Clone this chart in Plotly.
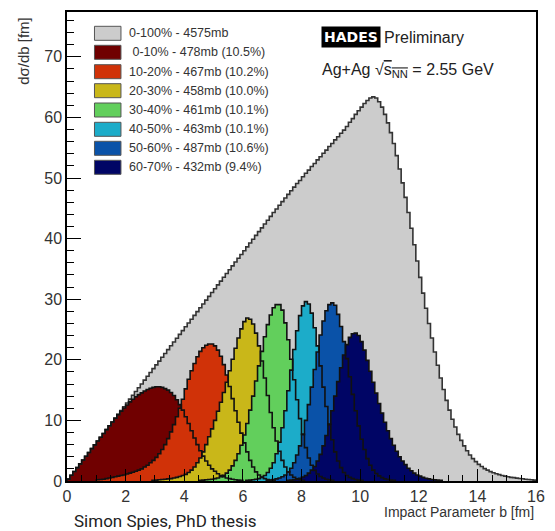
import plotly.graph_objects as go

# Histogram binning (fm)
BIN_WIDTH = 0.1

# Total distribution, 0-16 fm
total_start = 0.0
total_vals = [
    0.31, 0.94, 1.57, 2.20, 2.83, 3.46, 4.08, 4.71, 5.34, 5.97,
    6.60, 7.23, 7.85, 8.48, 9.11, 9.74, 10.37, 11.00, 11.62, 12.25,
    12.88, 13.51, 14.14, 14.77, 15.39, 16.02, 16.65, 17.28, 17.91, 18.54,
    19.16, 19.79, 20.42, 21.05, 21.68, 22.31, 22.93, 23.56, 24.19, 24.82,
    25.45, 26.08, 26.70, 27.33, 27.96, 28.59, 29.22, 29.85, 30.47, 31.10,
    31.73, 32.36, 32.99, 33.62, 34.24, 34.87, 35.50, 36.13, 36.76, 37.38,
    38.01, 38.64, 39.27, 39.90, 40.53, 41.15, 41.78, 42.41, 43.04, 43.67,
    44.30, 44.90, 45.50, 46.10, 46.70, 47.30, 47.90, 48.50, 49.10, 49.60,
    50.20, 50.80, 51.30, 51.90, 52.40, 53.00, 53.50, 54.10, 54.60, 55.20,
    55.70, 56.30, 56.80, 57.40, 57.90, 58.50, 59.20, 59.80, 60.50, 61.10,
    61.70, 62.30, 62.80, 63.20, 63.40, 63.20, 62.60, 61.70, 60.50, 59.10,
    57.50, 55.70, 53.70, 51.50, 49.20, 46.80, 44.30, 41.70, 39.00, 36.30,
    33.60, 31.00, 28.50, 26.00, 23.60, 21.30, 19.10, 17.00, 15.10, 13.30,
    11.70, 10.20, 8.90, 7.70, 6.70, 5.80, 5.00, 4.30, 3.70, 3.20,
    2.75, 2.40, 2.05, 1.80, 1.55, 1.35, 1.20, 1.05, 0.90, 0.80,
    0.70, 0.60, 0.55, 0.48, 0.42, 0.36, 0.30, 0.25, 0.20, 0.15,
]

# Centrality classes: first bin edge and bin contents
c0_10_start = 0.0
c0_10_vals = [
    0.31, 0.94, 1.57, 2.20, 2.83, 3.46, 4.08, 4.71, 5.34, 5.97,
    6.60, 7.23, 7.85, 8.48, 9.11, 9.74, 10.35, 10.95, 11.50, 12.05,
    12.55, 13.05, 13.50, 13.90, 14.25, 14.55, 14.85, 15.10, 15.30, 15.45,
    15.55, 15.55, 15.45, 15.25, 15.00, 14.60, 14.10, 13.40, 12.60, 11.70,
    10.60, 9.50, 8.30, 7.10, 6.00, 5.00, 4.10, 3.30, 2.60, 2.00,
    1.60, 1.20, 0.90, 0.70, 0.50, 0.40, 0.30, 0.20, 0.15, 0.10,
]

c10_20_start = 1.0
c10_20_vals = [
    0.20, 0.25, 0.30, 0.40, 0.50, 0.60, 0.70, 0.80, 0.90, 1.00,
    1.15, 1.30, 1.45, 1.60, 1.80, 2.00, 2.30, 2.60, 3.00, 3.40,
    3.90, 4.50, 5.20, 6.00, 7.00, 8.10, 9.30, 10.60, 12.00, 13.50,
    15.20, 16.80, 18.20, 19.40, 20.50, 21.40, 22.00, 22.40, 22.60, 22.60,
    22.30, 21.60, 20.60, 19.20, 17.50, 15.60, 13.60, 11.60, 9.70, 7.90,
    6.30, 4.80, 3.40, 2.30, 1.50, 1.00, 0.65, 0.40, 0.25, 0.15,
    0.10,
]

c20_30_start = 2.9
c20_30_vals = [
    0.10, 0.15, 0.20, 0.25, 0.30, 0.35, 0.40, 0.50, 0.60, 0.75,
    0.90, 1.10, 1.40, 1.80, 2.30, 3.00, 3.80, 4.80, 6.00, 7.30,
    8.60, 10.00, 11.50, 13.00, 14.60, 16.30, 18.20, 20.10, 21.90, 23.60,
    25.10, 26.30, 26.90, 26.70, 25.90, 24.40, 22.30, 19.80, 17.00, 14.10,
    11.30, 8.80, 6.60, 4.90, 3.40, 2.30, 1.50, 1.00, 0.60, 0.35,
    0.20, 0.10,
]

c30_40_start = 4.5
c30_40_vals = [
    0.10, 0.15, 0.20, 0.25, 0.30, 0.40, 0.50, 0.70, 0.95, 1.30,
    1.80, 2.50, 3.40, 4.50, 5.90, 7.60, 9.50, 11.70, 14.00, 16.50,
    19.00, 21.40, 23.80, 25.80, 27.40, 28.60, 29.10, 29.10, 28.20, 26.10,
    23.30, 20.10, 16.70, 13.40, 10.30, 7.70, 5.50, 3.80, 2.60, 1.75,
    1.15, 0.75, 0.50, 0.30, 0.20, 0.10,
]

c40_50_start = 6.1
c40_50_vals = [
    0.10, 0.15, 0.20, 0.30, 0.40, 0.60, 0.90, 1.40, 2.10, 3.00,
    4.50, 6.40, 8.80, 11.60, 14.90, 18.30, 21.70, 24.80, 27.30, 28.90,
    29.60, 29.20, 27.70, 25.30, 22.30, 19.00, 15.50, 12.30, 9.30, 6.80,
    4.80, 3.30, 2.20, 1.40, 0.90, 0.60, 0.40, 0.25, 0.15, 0.10,
]

c50_60_start = 6.8
c50_60_vals = [
    0.10, 0.15, 0.25, 0.35, 0.50, 0.70, 1.00, 1.50, 2.10, 3.00,
    4.30, 5.80, 7.70, 10.00, 12.60, 15.50, 18.40, 21.30, 24.10, 26.40,
    28.10, 29.10, 29.40, 29.00, 27.50, 25.50, 23.00, 20.20, 17.20, 14.30,
    11.60, 9.10, 6.90, 5.20, 3.70, 2.60, 1.80, 1.25, 0.85, 0.55,
    0.35, 0.25, 0.15, 0.10,
]

c60_70_start = 7.5
c60_70_vals = [
    0.10, 0.15, 0.20, 0.30, 0.45, 0.65, 0.90, 1.30, 1.80, 2.40,
    3.30, 4.40, 5.80, 7.50, 9.40, 11.60, 14.00, 16.40, 18.70, 20.80,
    22.50, 23.70, 24.30, 24.40, 24.00, 23.00, 21.60, 19.90, 18.10, 16.30,
    14.50, 12.80, 11.20, 9.70, 8.30, 7.00, 5.90, 4.90, 4.00, 3.30,
    2.70, 2.10, 1.70, 1.30, 1.00, 0.80, 0.60, 0.45, 0.35, 0.25,
    0.20, 0.15, 0.10,
]

legend_labels = [
    "0-100% - 4575mb",
    " 0-10% - 478mb (10.5%)",
    "10-20% - 467mb (10.2%)",
    "20-30% - 458mb (10.0%)",
    "30-40% - 461mb (10.1%)",
    "40-50% - 463mb (10.1%)",
    "50-60% - 487mb (10.6%)",
    "60-70% - 432mb (9.4%)",
]

x_ticks = [0, 2, 4, 6, 8, 10, 12, 14, 16]
y_ticks = [0, 10, 20, 30, 40, 50, 60, 70]

# Styles
fill_colors = ["#cccccc", "#700000", "#d03208", "#c9b719", "#62cf5c",
               "#1cacc9", "#0a52a8", "#000565"]
outline_colors = ["#333333"] + ["#111111"] * 7

series = [
    (total_start, total_vals),
    (c0_10_start, c0_10_vals),
    (c10_20_start, c10_20_vals),
    (c20_30_start, c20_30_vals),
    (c30_40_start, c30_40_vals),
    (c40_50_start, c40_50_vals),
    (c50_60_start, c50_60_vals),
    (c60_70_start, c60_70_vals),
]


def step_path(start, vals):
    """Closed outline of a histogram, to be drawn with line_shape='hv'."""
    xs = [start]
    ys = [0.0]
    for i, v in enumerate(vals):
        xs.append(round(start + i * BIN_WIDTH, 4))
        ys.append(v)
    end = round(start + len(vals) * BIN_WIDTH, 4)
    xs += [end, end]
    ys += [vals[-1], 0.0]
    return xs, ys


fig = go.Figure()

# filled areas first, in drawing order
for (start, vals), col in zip(series, fill_colors):
    xs, ys = step_path(start, vals)
    fig.add_trace(go.Scatter(x=xs, y=ys, mode="lines", line_shape="hv",
                             line=dict(width=0, color=col), fill="toself",
                             fillcolor=col, hoverinfo="skip", showlegend=False))

# outlines on top of every fill
for (start, vals), col in zip(series, outline_colors):
    xs, ys = step_path(start, vals)
    fig.add_trace(go.Scatter(x=xs, y=ys, mode="lines", line_shape="hv",
                             line=dict(width=1.6, color=col),
                             hoverinfo="skip", showlegend=False))

W, H = 555, 531
L, R, T, B = 67, 10, 12, 50
PW, PH = W - L - R, H - T - B


def px(xp):
    return (xp - L) / PW


def py(yp):
    return (H - B - yp) / PH


TXT = "#333333"
FONT = "Liberation Sans, Arial, sans-serif"

# legend block: swatches + labels
row_y = [33.3, 52.3, 71.7, 90.7, 110.0, 129.3, 148.3, 167.3]
shapes = []
annotations = []
for yc, lab, col in zip(row_y, legend_labels, fill_colors):
    shapes.append(dict(type="rect", xref="paper", yref="paper",
                       x0=px(95), x1=px(122), y0=py(yc + 7), y1=py(yc - 7),
                       fillcolor=col, line=dict(color="#555555", width=1)))
    text = "&nbsp;" + lab[1:] if lab.startswith(" ") else lab
    annotations.append(dict(xref="paper", yref="paper", x=px(128), y=py(yc),
                            xanchor="left", yanchor="middle", showarrow=False,
                            text=text,
                            font=dict(family=FONT, size=12.5, color=TXT)))

# experiment tag
annotations.append(dict(xref="paper", yref="paper", x=px(326), y=py(37),
                        xanchor="left", yanchor="middle", showarrow=False,
                        text="<b>HADES</b>", bgcolor="black", borderpad=2,
                        font=dict(family="DejaVu Sans", size=14, color="white")))
annotations.append(dict(xref="paper", yref="paper", x=px(388), y=py(37),
                        xanchor="left", yanchor="middle", showarrow=False,
                        text="Preliminary",
                        font=dict(family=FONT, size=16, color="#222222")))
annotations.append(dict(xref="paper", yref="paper", x=px(325), y=py(70),
                        xanchor="left", yanchor="middle", showarrow=False,
                        text="Ag+Ag √<span style='text-decoration:overline'>s<sub>NN</sub></span> = 2.55 GeV",
                        font=dict(family=FONT, size=16, color="#222222")))

# axis titles
annotations.append(dict(xref="paper", yref="paper", x=px(545), y=py(512),
                        xanchor="right", yanchor="middle", showarrow=False,
                        text="Impact Parameter b [fm]",
                        font=dict(family=FONT, size=14, color=TXT)))
annotations.append(dict(xref="paper", yref="paper", x=px(22), y=py(15),
                        xanchor="center", yanchor="top", showarrow=False,
                        text="dσ/db [fm]", textangle=-90,
                        font=dict(family=FONT, size=15, color=TXT)))
annotations.append(dict(xref="paper", yref="paper", x=px(72), y=py(521),
                        xanchor="left", yanchor="middle", showarrow=False,
                        text="Simon Spies, PhD thesis",
                        font=dict(family="Roboto, sans-serif", size=17, color="#222222")))

fig.update_layout(
    width=W, height=H,
    margin=dict(l=L, r=R, t=T, b=B),
    paper_bgcolor="white", plot_bgcolor="white",
    shapes=shapes, annotations=annotations,
    showlegend=False,
)
fig.update_xaxes(range=[0, 16], tickvals=x_ticks, ticktext=[str(v) for v in x_ticks],
                 showgrid=False, zeroline=False,
                 showline=True, linecolor="black", linewidth=1.5, mirror=True,
                 ticks="inside", ticklen=12, tickwidth=1.2, tickcolor="black",
                 minor=dict(ticks="inside", ticklen=6, dtick=0.5, tickwidth=1.2,
                            tickcolor="black", showgrid=False),
                 tickfont=dict(family=FONT, size=16, color=TXT))
fig.update_yaxes(range=[0, 77.4], tickvals=y_ticks, ticktext=[str(v) for v in y_ticks],
                 showgrid=False, zeroline=False,
                 showline=True, linecolor="black", linewidth=1.5, mirror=True,
                 ticks="inside", ticklen=14, tickwidth=1.2, tickcolor="black",
                 minor=dict(ticks="inside", ticklen=7, dtick=2, tickwidth=1.2,
                            tickcolor="black", showgrid=False),
                 tickfont=dict(family=FONT, size=16, color=TXT))

fig.write_html("out.html")
